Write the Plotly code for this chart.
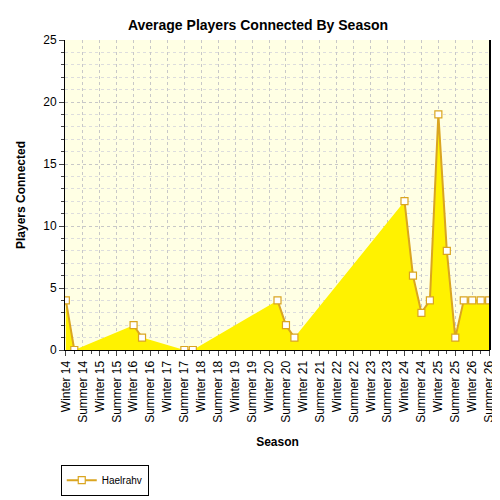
import plotly.graph_objects as go

seasons = [f"{s} {n}" for n in range(14, 27) for s in ("Winter", "Summer")]

# x positions in season units (0 = Winter 14); half steps between labels
x_pos = [0, 0.5, 4, 4.5, 7, 7.5, 12.5, 13, 13.5, 20, 20.5, 21, 21.5, 22, 22.5,
         23, 23.5, 24, 24.5, 25]
players = [4, 0, 2, 1, 0, 0, 4, 2, 1, 12, 6, 3, 4, 19, 8, 1, 4, 4, 4, 4]

# line only joins consecutive half-step samples
line_x, line_y = [], []
for i, (x, y) in enumerate(zip(x_pos, players)):
    if i > 0 and x - x_pos[i - 1] > 0.6:
        line_x.append(None)
        line_y.append(None)
    line_x.append(x)
    line_y.append(y)

fig = go.Figure()
fig.add_trace(go.Scatter(x=x_pos, y=players, mode="none", fill="tozeroy",
                         fillcolor="#FFF200", showlegend=False, hoverinfo="skip"))
fig.add_trace(go.Scatter(
    x=line_x, y=line_y, mode="lines+markers", name="Haelrahv",
    line=dict(color="#DAA520", width=2),
    marker=dict(symbol="square", size=7, color="white",
                line=dict(color="#DAA520", width=1.2)),
))
fig.update_layout(
    width=500, height=500,
    title=dict(text="<b>Average Players Connected By Season</b>", x=0.5, y=0.975,
               font=dict(size=14, color="black", family="Arial")),
    font=dict(family="Arial", size=12, color="black"),
    paper_bgcolor="white", plot_bgcolor="#FFFFE4",
    margin=dict(l=50, r=12, t=32, b=124),
    showlegend=True,
    legend=dict(x=-0.01, y=-0.37, xanchor="left", yanchor="top",
                bordercolor="black", borderwidth=1, font=dict(size=10)),
)
fig.update_xaxes(
    range=[-0.05, 25.05], tickmode="array", tickvals=list(range(len(seasons))),
    ticktext=seasons, tickangle=-90, ticks="outside", ticklen=5,
    showline=True, linecolor="black", linewidth=1, mirror=False,
    showgrid=True, gridcolor="#C8C8C8", griddash="dot", zeroline=False,
    minor=dict(ticks="outside", ticklen=3, dtick=0.5, showgrid=False),
    title=dict(text="<b>Season</b>", font=dict(size=12)),
)
fig.update_yaxes(
    range=[0, 25], dtick=5, ticks="outside", ticklen=5,
    showline=True, linecolor="black", linewidth=1,
    showgrid=True, gridcolor="#C8C8C8", griddash="dot", zeroline=False,
    minor=dict(ticks="outside", ticklen=3, dtick=1, showgrid=True,
               gridcolor="#DDDDDD", griddash="dot"),
    title=dict(text="<b>Players Connected</b>", font=dict(size=12)),
)
fig.add_shape(type="rect", xref="paper", yref="paper", x0=1, x1=1, y0=0, y1=1,
              line=dict(color="black", width=2))
fig.write_html("out.html")
